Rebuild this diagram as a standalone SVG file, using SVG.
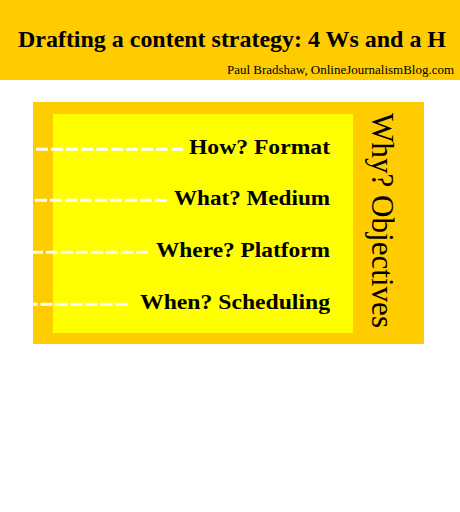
<svg xmlns="http://www.w3.org/2000/svg" width="460" height="512" viewBox="0 0 460 512">
<style>
.t{font-family:"Liberation Serif","Times New Roman",serif;font-weight:bold;font-size:20px;fill:#000;text-anchor:end}
.d{stroke:#fff;stroke-width:3;stroke-dasharray:12,3;fill:none}
</style>
<rect width="460" height="512" fill="#fff"/>
<g id="header">
<rect x="0" y="0" width="460" height="80" fill="#ffcc00"/>
<text x="18" y="47" font-family="Liberation Serif,serif" font-weight="bold" font-size="23" textLength="428" lengthAdjust="spacingAndGlyphs">Drafting a content strategy: 4 Ws and a H</text>
<text x="227" y="74" font-family="Liberation Serif,serif" font-size="11.5" textLength="227" lengthAdjust="spacingAndGlyphs">Paul Bradshaw, OnlineJournalismBlog.com</text>
</g>
<g id="why">
<rect x="33" y="102" width="391" height="242" fill="#ffcc00"/>
<text transform="translate(372,113) rotate(90)" font-family="Liberation Serif,serif" font-size="31" textLength="215" lengthAdjust="spacingAndGlyphs">Why? Objectives</text>
</g>
<g id="inner">
<rect x="53" y="114" width="300" height="219" fill="#ffff00"/>
</g>
<g id="connectors">
<path class="d" d="M183,149.2 L0,149.2"/>
<path class="d" d="M167,200.2 L0,200.2"/>
<path class="d" d="M148,252.2 L0,252.2"/>
<path class="d" d="M127.5,304.2 L0,304.2"/>
</g>
<g id="how"><text class="t" x="330" y="154" textLength="141" lengthAdjust="spacingAndGlyphs">How? Format</text></g>
<g id="what"><text class="t" x="330" y="205" textLength="156" lengthAdjust="spacingAndGlyphs">What? Medium</text></g>
<g id="where"><text class="t" x="330" y="257" textLength="174" lengthAdjust="spacingAndGlyphs">Where? Platform</text></g>
<g id="when"><text class="t" x="330" y="309" textLength="190" lengthAdjust="spacingAndGlyphs">When? Scheduling</text></g>
</svg>
